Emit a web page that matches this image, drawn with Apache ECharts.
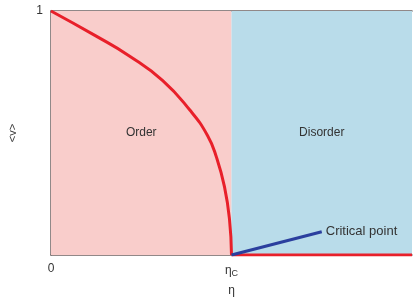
<!DOCTYPE html>
<html>
<head>
<meta charset="utf-8">
<script src="https://cdn.jsdelivr.net/npm/echarts@6/dist/echarts.min.js"></script>
<style>
html, body { margin: 0; padding: 0; background: #fff; }
#chart { width: 413px; height: 299px; }
</style>
</head>
<body>
<div id="chart"></div>
<script>
// order parameter curve (eta in units where eta_c = 1)
var orderEta = [0, 0.243, 0.436, 0.619, 0.768, 0.867, 0.917, 0.961, 0.989, 1]
var orderV = [1, 0.9, 0.815, 0.715, 0.595, 0.49, 0.4, 0.28, 0.145, 0]
// disorder branch: <v> = 0 above eta_c
var disorderEta = [1, 2]
var disorderV = [0, 0]
// pointer line to the critical point
var pointerEta = [1, 1.5]
var pointerV = [0, 0.095]
var regions = [
    { name: "Order", from: 0, to: 1, color: "#f9cdcb" },
    { name: "Disorder", from: 1, to: 2, color: "#b9dcea" }
]

function pairs(xs, ys) {
    return xs.map(function (x, i) { return [x, ys[i]] })
}

var chart = echarts.init(document.getElementById("chart"))
var font = "Liberation Sans, Arial, sans-serif"

var option = {
    animation: false,
    grid: { left: 51, right: 1, top: 11, bottom: 44, outerBoundsMode: "none" },
    xAxis: [{
        type: "value",
        min: 0, max: 2, interval: 1,
        name: "η",
        nameLocation: "middle",
        nameGap: 30,
        nameTextStyle: { color: "#333", fontSize: 12, fontFamily: font },
        axisLine: { show: true, lineStyle: { color: "#6d6262", width: 1.5 } },
        axisTick: { show: false },
        splitLine: { show: false },
        axisLabel: {
            margin: 8,
            color: "#333",
            fontSize: 12,
            fontFamily: font,
            formatter: function (v) {
                if (v === 0) return "0"
                if (v === 1) return "η{sub|C}"
                return ""
            },
            rich: { sub: { fontSize: 9, verticalAlign: "bottom", padding: [6, 0, 0, 0], color: "#333" } }
        }
    }, {
        type: "value",
        position: "top",
        min: 0, max: 2,
        axisLine: { show: true, lineStyle: { color: "#6d6262", width: 1.5 } },
        axisTick: { show: false },
        axisLabel: { show: false },
        splitLine: { show: false }
    }],
    yAxis: {
        type: "value",
        min: 0, max: 1, interval: 1,
        name: "<v>",
        nameLocation: "middle",
        nameRotate: 90,
        nameGap: 33,
        nameTextStyle: { color: "#333", fontSize: 11, fontFamily: font },
        axisLine: { show: true, lineStyle: { color: "#6d6262", width: 1.5 } },
        axisTick: { show: false },
        splitLine: { show: false },
        axisLabel: {
            margin: 8,
            color: "#333",
            fontSize: 12,
            fontFamily: font,
            formatter: function (v) { return v === 1 ? "1" : "" }
        }
    },
    series: [{
        name: "regions",
        type: "line",
        data: [],
        markArea: {
            silent: true,
            data: regions.map(function (r) {
                return [{
                    xAxis: r.from, yAxis: 0,
                    name: r.name,
                    itemStyle: { color: r.color, opacity: 1 }
                }, { xAxis: r.to, yAxis: 1 }]
            }),
            label: {
                show: true,
                position: "inside",
                color: "#333",
                fontSize: 12,
                fontFamily: font
            }
        }
    }, {
        name: "order",
        type: "line",
        smooth: 0.5,
        showSymbol: false,
        lineStyle: { color: "#e8202a", width: 3 },
        data: pairs(orderEta, orderV),
        z: 3
    }, {
        name: "disorder",
        type: "line",
        showSymbol: false,
        lineStyle: { color: "#e8202a", width: 3 },
        data: pairs(disorderEta, disorderV),
        z: 3
    }, {
        name: "critical",
        type: "line",
        showSymbol: false,
        lineStyle: { color: "#2b3f9e", width: 3 },
        data: pairs(pointerEta, pointerV),
        endLabel: {
            show: true,
            formatter: "Critical point",
            color: "#333",
            fontSize: 13,
            fontFamily: font,
            distance: 4
        },
        z: 4
    }]
}
chart.setOption(option)
</script>
</body>
</html>
